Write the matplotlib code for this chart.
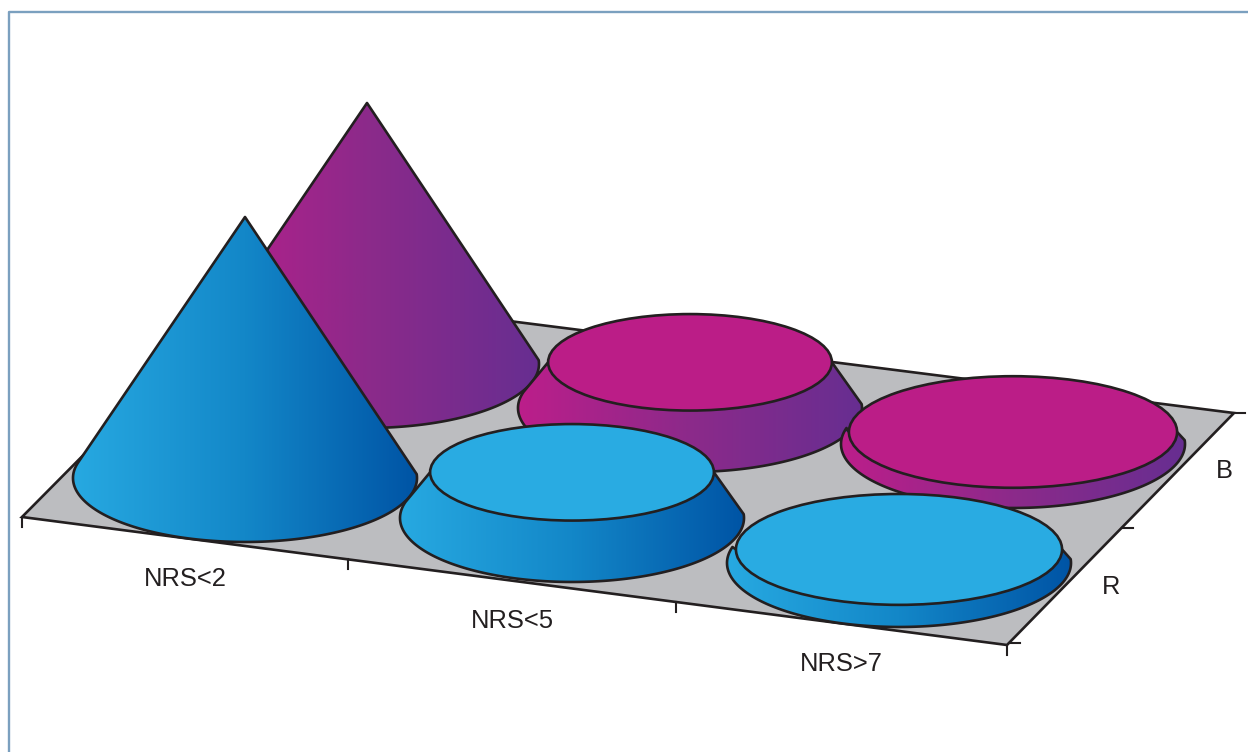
import numpy as np
import matplotlib
matplotlib.use('Agg')
import matplotlib.pyplot as plt
from matplotlib.colors import LinearSegmentedColormap
from matplotlib.patches import Polygon, Ellipse

# Chart values, 100 is a full cone
categories = ['NRS<2', 'NRS<5', 'NRS>7']
series = ['R', 'B']
values_r = [100, 17.5, 5.2]
values_b = [100, 17.5, 4.6]

# Look of the figure
LINE = '#231f20'
FLOOR = '#bcbdc0'
FRAME = '#7ba0bf'
blue_ramp = LinearSegmentedColormap.from_list('blue', ['#27a9e1', '#1387c8', '#0054a5'])
purple_ramp = LinearSegmentedColormap.from_list('purple', ['#bc1e8a', '#8c2a8a', '#672e91'])
top_colors = {'R': '#29abe2', 'B': '#bb1d87'}
ramps = {'R': blue_ramp, 'B': purple_ramp}

# Oblique projection, in pixels of the 1248x752 picture
floor_origin = np.array([22, 517])
floor_cat = np.array([985, 128])
floor_ser = np.array([227, -232])
cat_ticks = [0, 0.331, 0.664, 1]
ser_ticks = [0.008, 0.506, 1]
base_a = 172
base_aspect = 0.372
top_aspect = 0.34
full_height = 261
lw = 1.9

# the original has some perspective, bars do not sit quite on a grid
y_nudge = {'R': [0, -2.5, 0], 'B': [0, 2.5, -3]}


def base_center(c, s):
    return 245 + (327 - 4 * s) * c + 122 * s, 478 + (42.5 - 1 * s) * c - 114 * s


def draw_bar(ax, c, s, value, ramp, top_color, nudge):
    cx, cy = base_center(c, s)
    cy = cy + nudge
    b = base_a * base_aspect
    top = cy - full_height * value / 100
    top_a = base_a * (1 - value / 100)

    # outline: lower part of the base ellipse, then up to the top
    t = np.linspace(np.arcsin(-0.06), np.pi - np.arcsin(-0.25), 200)
    xs = cx + base_a * np.cos(t)
    ys = cy + b * np.sin(t)
    xs = np.concatenate([xs, [cx - top_a, cx + top_a]])
    ys = np.concatenate([ys, [top, top]])
    outline = np.column_stack([xs, ys])

    body = Polygon(outline, closed=True, facecolor='none', edgecolor='none', zorder=3)
    ax.add_patch(body)
    grad = ax.imshow(np.linspace(0, 1, 256).reshape(1, -1), cmap=ramp, aspect='auto',
                     extent=[cx - base_a, cx + base_a, cy + b, top], zorder=3)
    grad.set_clip_path(body)
    # outline goes over the gradient
    ax.add_patch(Polygon(outline, closed=True, facecolor='none',
                         edgecolor=LINE, lw=lw, zorder=3, joinstyle='round'))

    if top_a > 0 and value < 100:
        ax.add_patch(Ellipse((cx, top), 2 * top_a, 2 * top_a * top_aspect,
                             facecolor=top_color, edgecolor=LINE, lw=lw, zorder=3))


fig = plt.figure(figsize=(12.48, 7.52), dpi=100)
ax = fig.add_axes([0, 0, 1, 1])
ax.axis('off')

# Outer frame, runs off the picture on the right and at the bottom
ax.plot([9, 9, 1260], [770, 12, 12], color=FRAME, lw=1.7, zorder=1)

# Floor
corners = [floor_origin,
           floor_origin + floor_cat,
           floor_origin + floor_cat + floor_ser,
           floor_origin + floor_ser + np.array([0, 3])]
ax.add_patch(Polygon(corners, closed=True, facecolor=FLOOR, edgecolor=LINE, lw=lw,
                     zorder=2, joinstyle='miter'))

# Ticks along the front and right edges
for f in cat_ticks:
    p = floor_origin + floor_cat * f
    ax.plot([p[0], p[0]], [p[1], p[1] + 10], color=LINE, lw=1.5, zorder=2)
for f in ser_ticks:
    p = floor_origin + floor_cat + floor_ser * f
    ax.plot([p[0], p[0] + 11], [p[1], p[1]], color=LINE, lw=1.5, zorder=2)

# Back row first, front row covers it
for s_idx, (name, vals) in reversed(list(enumerate(zip(series, [values_r, values_b])))):
    for c_idx, v in enumerate(vals):
        draw_bar(ax, c_idx, s_idx, v, ramps[name], top_colors[name], y_nudge[name][c_idx])

# Labels
for i, name in enumerate(categories):
    f = (cat_ticks[i] + cat_ticks[i + 1]) / 2
    p = floor_origin + floor_cat * f
    ax.text(p[0], p[1] + 40.5, name, family='Liberation Sans', fontsize=18.4, color=LINE,
            ha='center', va='center')
for i, name in enumerate(series):
    p = floor_origin + floor_cat + floor_ser * (i + 0.5) / 2
    ax.text(p[0] + 47, p[1], name, family='Liberation Sans', fontsize=18.4, color=LINE,
            ha='center', va='center')

ax.set_xlim(0, 1248)
ax.set_ylim(752, 0)

plt.savefig('out.png', dpi=100)
